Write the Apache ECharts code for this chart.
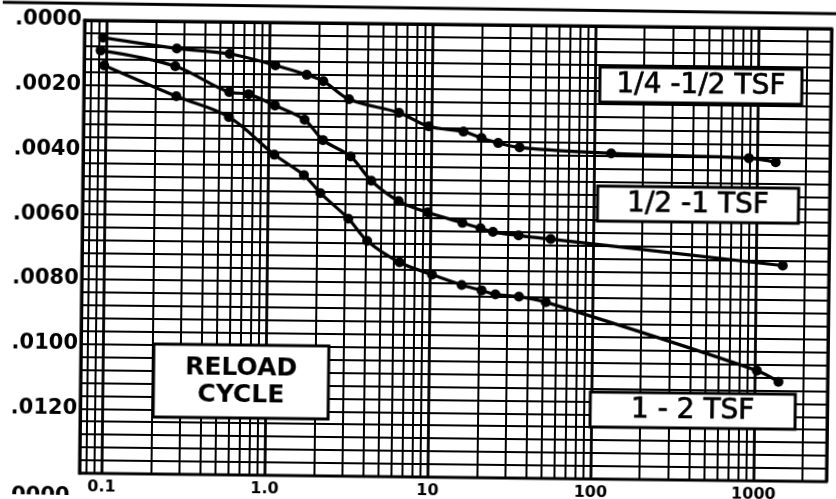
<!DOCTYPE html>
<html><head><meta charset="utf-8">
<script src="https://cdn.jsdelivr.net/npm/echarts@6/dist/echarts.min.js"></script>
<style>
html,body{margin:0;padding:0;background:#fff;overflow:hidden;}
#c{width:836px;height:499px;transform:rotate(0.65deg);}
</style>
</head><body><div id="c"></div>
<script>
// ---- tick labels ----
const xTickValues = [0.1, 1, 10, 100, 1000];
const xTickLabels = ['0.1', '1.0', '10', '100', '1000'];
const yTickValues = [0, 0.002, 0.004, 0.006, 0.008, 0.010, 0.012, 0.014];
const yTickLabels = ['.0000', '.0020', '.0040', '.0060', '.0080', '.0100', '.0120', ''];
// intermediate log-paper rulings
const xRulings = [0.08, 0.09, 0.2, 0.3, 0.4, 0.5, 0.6, 0.7, 0.8, 0.9,
  2, 3, 4, 5, 6, 7, 8, 9, 20, 30, 40, 50, 60, 70, 80, 90,
  200, 300, 400, 500, 600, 700, 800, 900, 2000];

// ---- series: 1/4 - 1/2 TSF ----
const quarterX = [0.095, 0.27, 0.57, 1.09, 1.7, 2.15, 3.1, 6.3, 9.6, 15.7, 20.3, 25.7, 34.8, 127, 890, 1300];
const quarterY = [0.00053, 0.00084, 0.00099, 0.00133, 0.00161, 0.00180, 0.00235, 0.00275, 0.00316, 0.00331, 0.00350, 0.00365, 0.00378, 0.00393, 0.00403, 0.00415];
// ---- series: 1/2 - 1 TSF ----
const halfX = [0.092, 0.265, 0.57, 0.75, 1.09, 1.66, 2.16, 3.2, 4.3, 6.35, 9.6, 15.7, 20.3, 24.2, 34.8, 54.8, 1460];
const halfY = [0.00093, 0.00139, 0.00217, 0.00223, 0.00257, 0.00300, 0.00362, 0.00412, 0.00486, 0.00548, 0.00582, 0.00613, 0.00629, 0.00640, 0.00650, 0.00660, 0.00734];
// ---- series: 1 - 2 TSF ----
const oneX = [0.097, 0.27, 0.57, 1.09, 1.66, 2.1, 3.13, 4.1, 6.5, 10.3, 15.7, 20.8, 25.3, 35.3, 51.6, 1030, 1400];
const oneY = [0.00139, 0.00232, 0.00294, 0.00409, 0.00471, 0.00526, 0.00604, 0.00672, 0.00737, 0.00774, 0.00805, 0.00821, 0.00833, 0.00839, 0.00855, 0.01059, 0.01093];

const seriesNames = ['1/4 -1/2 TSF', '1/2 -1 TSF', '1 - 2 TSF'];
const seriesXs = [quarterX, halfX, oneX];
const seriesYs = [quarterY, halfY, oneY];

const chart = echarts.init(document.getElementById('c'), null, {renderer: 'canvas'});
const black = '#000';
const labelFont = 'DejaVu Sans';

function pair(xs, ys) { return xs.map((x, i) => [x, ys[i]]); }

const dataSeries = seriesNames.map((name, i) => ({
  name: name,
  type: 'line',
  z: 5,
  data: pair(seriesXs[i], seriesYs[i]),
  smooth: 0.35,
  symbol: 'circle',
  symbolSize: 10,
  showAllSymbol: true,
  itemStyle: {color: black},
  lineStyle: {color: black, width: 3.2},
  silent: true
}));

dataSeries.unshift({
  name: 'rulings',
  type: 'line',
  z: 1,
  data: [],
  silent: true,
  markLine: {
    silent: true,
    symbol: ['none', 'none'],
    label: {show: false},
    lineStyle: {color: black, width: 2, type: 'solid'},
    animation: false,
    data: xRulings.map(v => ({xAxis: v}))
  }
});

function boxLabel(x, y, w, h, text, font, lineH, strokeW) {
  return {
    type: 'group', x: x, y: y, z: 100,
    children: [
      {type: 'rect', z: 100, shape: {x: 0, y: 0, width: w, height: h},
       style: {fill: '#fff', stroke: black, lineWidth: 3}},
      {type: 'text', z: 101, x: w / 2, y: h / 2,
       style: {text: text, fill: black, font: font, align: 'center', verticalAlign: 'middle',
               lineHeight: lineH || 30, stroke: black, lineWidth: strokeW || 0}}
    ]
  };
}

chart.setOption({
  animation: false,
  backgroundColor: '#fff',
  grid: {left: 82, right: 7, top: 24, bottom: 22, show: true, borderColor: black, borderWidth: 3, containLabel: false},
  xAxis: {
    type: 'log', logBase: 10, min: 0.073, max: 2800,
    axisLine: {show: true, lineStyle: {color: black, width: 3}},
    axisTick: {show: false},
    splitLine: {show: true, lineStyle: {color: black, width: 2.8}},
    axisLabel: {
      color: black, fontFamily: labelFont, fontWeight: 'bold', fontSize: 16, margin: 6,
      showMinLabel: true, showMaxLabel: true,
      formatter: function (v) {
        for (let i = 0; i < xTickValues.length; i++) {
          if (Math.abs(Math.log10(v) - Math.log10(xTickValues[i])) < 1e-6) return xTickLabels[i];
        }
        return '';
      }
    }
  },
  yAxis: {
    type: 'value', inverse: true, min: 0, max: 0.014, interval: 0.002,
    axisLine: {show: true, lineStyle: {color: black, width: 3}},
    axisTick: {show: false},
    splitLine: {show: true, lineStyle: {color: black, width: 2}},
    minorTick: {show: false, splitNumber: 5},
    minorSplitLine: {show: true, lineStyle: {color: black, width: 2}},
    axisLabel: {
      color: black, fontFamily: labelFont, fontWeight: 'bold', fontSize: 21, margin: 3,
      formatter: function (v) {
        for (let i = 0; i < yTickValues.length; i++) {
          if (Math.abs(v - yTickValues[i]) < 1e-9) return yTickLabels[i];
        }
        return '';
      }
    }
  },
  graphic: [
    {type: 'line', z: 100, shape: {x1: 0, y1: 7, x2: 836, y2: 9}, style: {stroke: black, lineWidth: 3}},
    boxLabel(598, 65, 202, 35, seriesNames[0], '28px "DejaVu Sans"', 30, 0.7),
    boxLabel(597, 184, 201, 35, seriesNames[1], '28px "DejaVu Sans"', 30, 0.7),
    boxLabel(592, 390, 205, 35, seriesNames[2], '28px "DejaVu Sans"', 30, 0.7),
    boxLabel(155, 347, 175, 73, 'RELOAD\nCYCLE', 'bold 25px "DejaVu Sans"', 27, 0),
    {type: 'text', z: 100, x: 6, y: 490, style: {text: '.0000', fill: black, font: 'bold 21px "DejaVu Sans"'}}
  ],
  series: dataSeries
});
</script>
</body></html>
